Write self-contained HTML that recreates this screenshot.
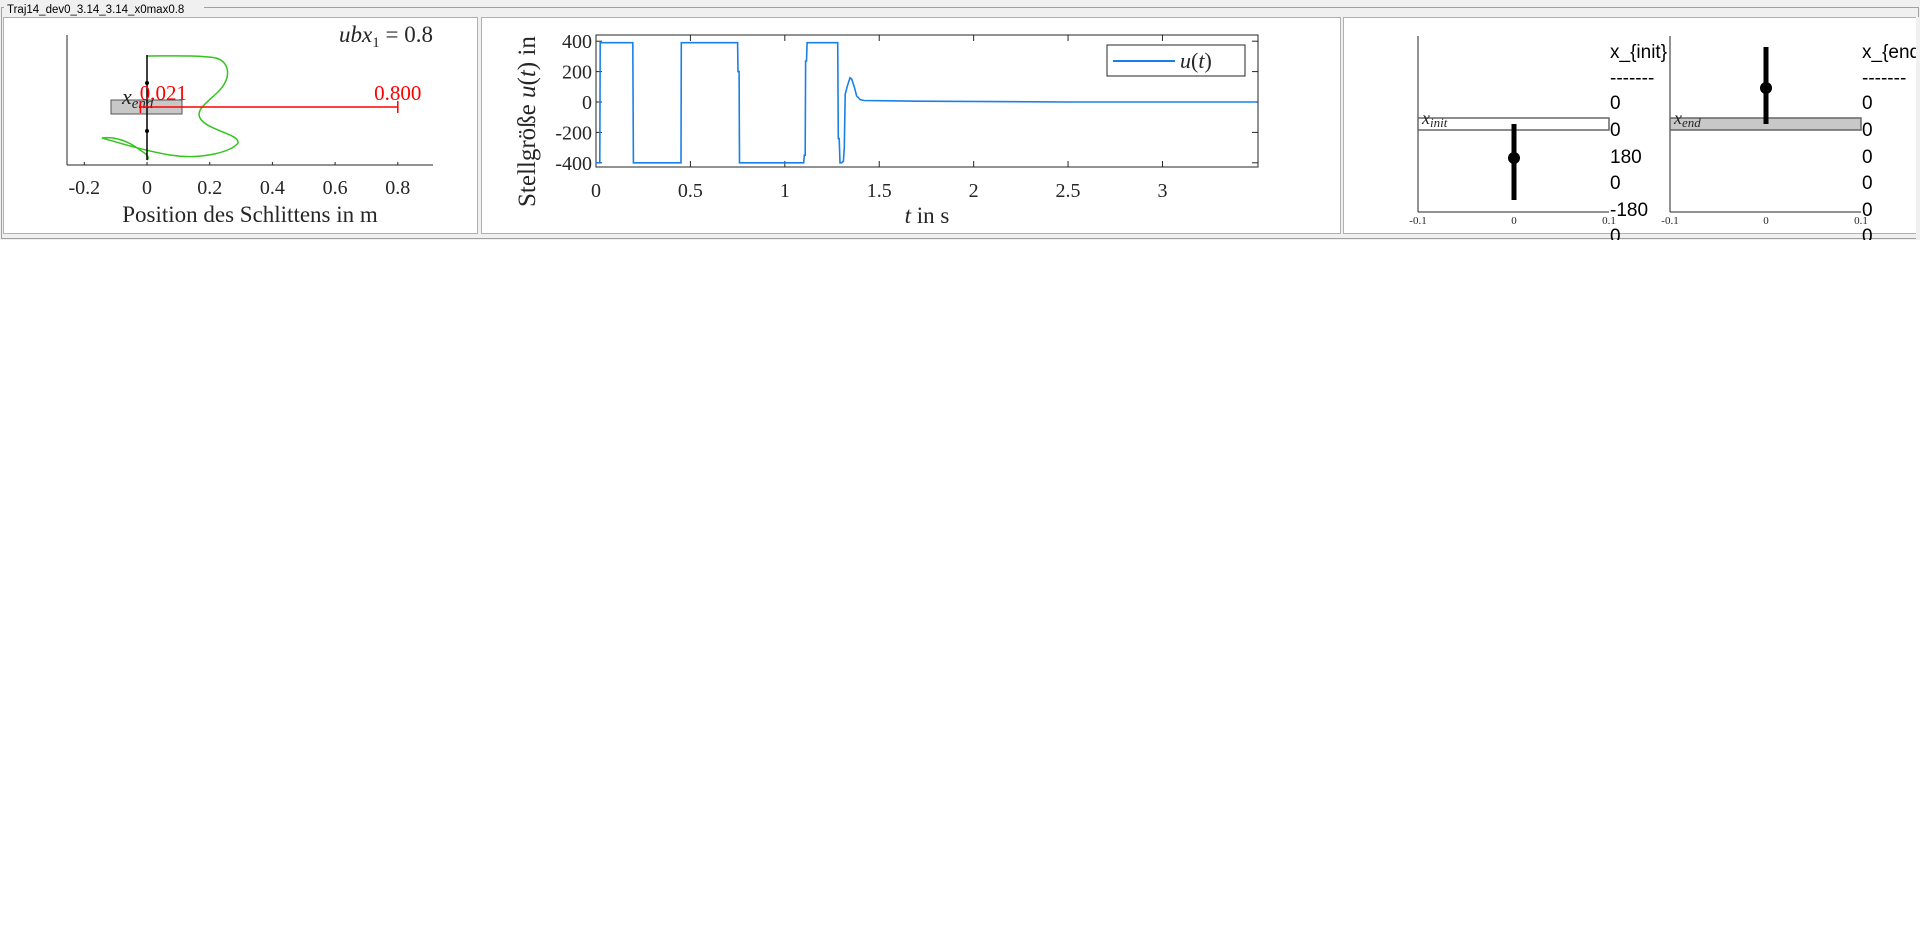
<!DOCTYPE html>
<html><head><meta charset="utf-8"><style>
html,body{margin:0;padding:0;background:#fff;width:1920px;height:948px;overflow:hidden}
svg{display:block}
.t{font-family:"Liberation Serif",serif;fill:#262626}
.s{font-family:"Liberation Sans",sans-serif;fill:#000}
</style></head><body>
<svg id="root" width="1920" height="948" xmlns="http://www.w3.org/2000/svg">
<rect x="0" y="0" width="1920" height="240" fill="#f0f0f0"/>
<rect x="1.5" y="7.5" width="1917" height="231" fill="none" stroke="#a0a0a0"/>
<rect x="4" y="1" width="200" height="14" fill="#f0f0f0"/>
<text class="s" x="7" y="13" font-size="11.5">Traj14_dev0_3.14_3.14_x0max0.8</text>
<rect x="3.5" y="17.5" width="474" height="216" fill="#fff" stroke="#b0b0b0"/>
<rect x="481.5" y="17.5" width="859" height="216" fill="#fff" stroke="#b0b0b0"/>
<rect x="1343.5" y="17.5" width="574" height="216" fill="#fff" stroke="#b0b0b0"/>

<!-- Panel 1 -->
<g id="p1">
<line x1="67" y1="35" x2="67" y2="165" stroke="#262626"/>
<line x1="67" y1="165" x2="433" y2="165" stroke="#262626"/>
<g id="p1ticks"></g>
<text class="t" x="250" y="222" font-size="23" text-anchor="middle">Position des Schlittens in m</text>
<text class="t" x="433" y="42" font-size="23" text-anchor="end"><tspan font-style="italic">ubx</tspan><tspan font-size="15" dy="5">1</tspan><tspan dy="-5"> = 0.8</tspan></text>
<path d="M147,56 C170,56 200,55 216,58 C230,62 232,78 218,92 C205,104 196,110 200,118 C206,130 240,134 238,143 C232,152 200,160 170,155 C140,150 110,140 102,138 C115,136 130,142 140,150 C148,155 150,158 147,160" fill="none" stroke="#33c41f" stroke-width="1.5"/>
<rect x="111" y="100" width="71" height="14" fill="#c8c8c8" stroke="#555"/>
<line x1="147" y1="55" x2="147" y2="160" stroke="#000" stroke-width="1.5"/>
<circle cx="147" cy="83" r="2" fill="#000"/><circle cx="147" cy="131" r="2" fill="#000"/>
<text class="t" x="122" y="104" font-size="22" font-style="italic">x<tspan font-size="15" dy="4">end</tspan></text>
<g id="p1range"></g>
</g>

<!-- Panel 2 -->
<g id="p2">
<rect x="596" y="35" width="662" height="132" fill="#fff" stroke="#262626"/>
<g id="p2ticks"></g>
<path id="uline" fill="none" stroke="#1a80e6" stroke-width="1.6"/>
<text class="t" x="927" y="223" font-size="23" text-anchor="middle"><tspan font-style="italic">t</tspan> in s</text>
<text class="t" transform="translate(535,207) rotate(-90)" font-size="25">Stellgröße <tspan font-style="italic">u</tspan>(<tspan font-style="italic">t</tspan>) in</text>
<rect x="1107" y="45" width="138" height="31" fill="#fff" stroke="#262626"/>
<line x1="1113" y1="61" x2="1175" y2="61" stroke="#1a80e6" stroke-width="2"/>
<text class="t" x="1180" y="68" font-size="22"><tspan font-style="italic">u</tspan>(<tspan font-style="italic">t</tspan>)</text>
</g>

<!-- Panel 3 -->
<g id="p3">
<g>
<line x1="1418" y1="36" x2="1418" y2="212" stroke="#262626"/>
<line x1="1418" y1="212" x2="1609" y2="212" stroke="#262626"/>
<text class="t" x="1418" y="224" font-size="11" text-anchor="middle">-0.1</text>
<text class="t" x="1514" y="224" font-size="11" text-anchor="middle">0</text>
<text class="t" x="1609" y="224" font-size="11" text-anchor="middle">0.1</text>
<rect x="1418" y="118" width="191" height="12" fill="#fff" stroke="#666" stroke-width="1.5"/>
<text class="t" x="1422" y="124" font-size="18" font-style="italic">x<tspan font-size="13" dy="3">init</tspan></text>
<line x1="1514" y1="124" x2="1514" y2="200" stroke="#000" stroke-width="5"/>
<circle cx="1514" cy="158" r="6" fill="#000"/>
<g class="s" font-size="19"><text x="1610" y="58">x_{init}</text><text x="1610" y="84">-------</text><text x="1610" y="109">0</text><text x="1610" y="136">0</text><text x="1610" y="163">180</text><text x="1610" y="189">0</text><text x="1610" y="216">-180</text><text x="1610" y="242">0</text></g>
</g>
<g>
<line x1="1670" y1="36" x2="1670" y2="212" stroke="#262626"/>
<line x1="1670" y1="212" x2="1861" y2="212" stroke="#262626"/>
<text class="t" x="1670" y="224" font-size="11" text-anchor="middle">-0.1</text>
<text class="t" x="1766" y="224" font-size="11" text-anchor="middle">0</text>
<text class="t" x="1861" y="224" font-size="11" text-anchor="middle">0.1</text>
<rect x="1670" y="118" width="191" height="12" fill="#c8c8c8" stroke="#666" stroke-width="1.5"/>
<text class="t" x="1674" y="124" font-size="18" font-style="italic">x<tspan font-size="13" dy="3">end</tspan></text>
<line x1="1766" y1="47" x2="1766" y2="124" stroke="#000" stroke-width="5"/>
<circle cx="1766" cy="88" r="6" fill="#000"/>
<g class="s" font-size="19"><text x="1862" y="58">x_{end}</text><text x="1862" y="84">-------</text><text x="1862" y="109">0</text><text x="1862" y="136">0</text><text x="1862" y="163">0</text><text x="1862" y="189">0</text><text x="1862" y="216">0</text><text x="1862" y="242">0</text></g>
</g>
</g>
<rect x="1916" y="17" width="4" height="230" fill="#f0f0f0"/>
<rect x="0" y="240" width="1920" height="708" fill="#fff"/>
</svg>
<script>
const NS="http://www.w3.org/2000/svg";
// Panel 1 data
const cartTicks=[-0.2,0,0.2,0.4,0.6,0.8];
const cartTickLabels=["-0.2","0","0.2","0.4","0.6","0.8"];
const rangeValues=[-0.021,0.8];
const rangeLabels=["0.021","0.800"];
// Panel 2 data
const timeTicks=[0,0.5,1,1.5,2,2.5,3];
const timeTickLabels=["0","0.5","1","1.5","2","2.5","3"];
const uTicks=[400,200,0,-200,-400];
const uTickLabels=["400","200","0","-200","-400"];
const tValues=[0,0.02,0.022,0.195,0.198,0.45,0.452,0.75,0.752,0.758,0.76,1.1,1.103,1.108,1.11,1.115,1.118,1.28,1.283,1.288,1.292,1.3,1.31,1.315,1.32,1.33,1.345,1.355,1.37,1.38,1.4,1.42,1.7,2.5,3.5];
const uValues=[-400,-400,390,390,-400,-400,390,390,200,200,-400,-400,-350,-350,270,270,390,390,-240,-240,-400,-400,-390,-300,50,100,160,150,90,40,15,10,5,0,0];

function el(tag,attrs,parent,txt){const e=document.createElementNS(NS,tag);for(const k in attrs)e.setAttribute(k,attrs[k]);if(txt!==undefined)e.textContent=txt;parent.appendChild(e);return e;}
const x1=v=>147+v*313.5;
const g1=document.getElementById('p1ticks');
cartTicks.forEach((v,i)=>{
  el('line',{x1:x1(v),y1:165,x2:x1(v),y2:162,stroke:'#262626'},g1);
  const t=el('text',{x:x1(v),y:194,'font-size':20,'text-anchor':'middle',class:'t'},g1,cartTickLabels[i]);
  
  
});
const gr=document.getElementById('p1range');
const ry=107;
const rl=el('line',{x1:x1(rangeValues[0]),y1:ry,x2:x1(rangeValues[1]),y2:ry,stroke:'#ff0000','stroke-width':1.5},gr);


rangeValues.forEach((v,i)=>{
  el('line',{x1:x1(v),y1:ry-6,x2:x1(v),y2:ry+6,stroke:'#ff0000','stroke-width':1.5},gr);
  const t=el('text',{x:x1(v)+(i==0?23:0),y:100,'font-size':21,'text-anchor':'middle',class:'t',style:'fill:#ff0000'},gr,rangeLabels[i]);
  
  
});
// Panel 2
const xs=t=>596+t*(662/3.506);
const ys=u=>102-u*(121.6/800);
const g2=document.getElementById('p2ticks');
timeTicks.forEach((v,i)=>{
  el('line',{x1:xs(v),y1:167,x2:xs(v),y2:161,stroke:'#262626'},g2);
  el('line',{x1:xs(v),y1:35,x2:xs(v),y2:41,stroke:'#262626'},g2);
  const t=el('text',{x:xs(v),y:197,'font-size':20,'text-anchor':'middle',class:'t'},g2,timeTickLabels[i]);
  
  
});
uTicks.forEach((v,i)=>{
  el('line',{x1:596,y1:ys(v),x2:602,y2:ys(v),stroke:'#262626'},g2);
  el('line',{x1:1258,y1:ys(v),x2:1252,y2:ys(v),stroke:'#262626'},g2);
  const t=el('text',{x:592,y:ys(v)+7,'font-size':20,'text-anchor':'end',class:'t'},g2,uTickLabels[i]);
  
  
});
document.getElementById('uline').setAttribute('d',tValues.map((t,i)=>(i?'L':'M')+xs(t).toFixed(1)+','+ys(uValues[i]).toFixed(1)).join(' '));
</script>
</body></html>
